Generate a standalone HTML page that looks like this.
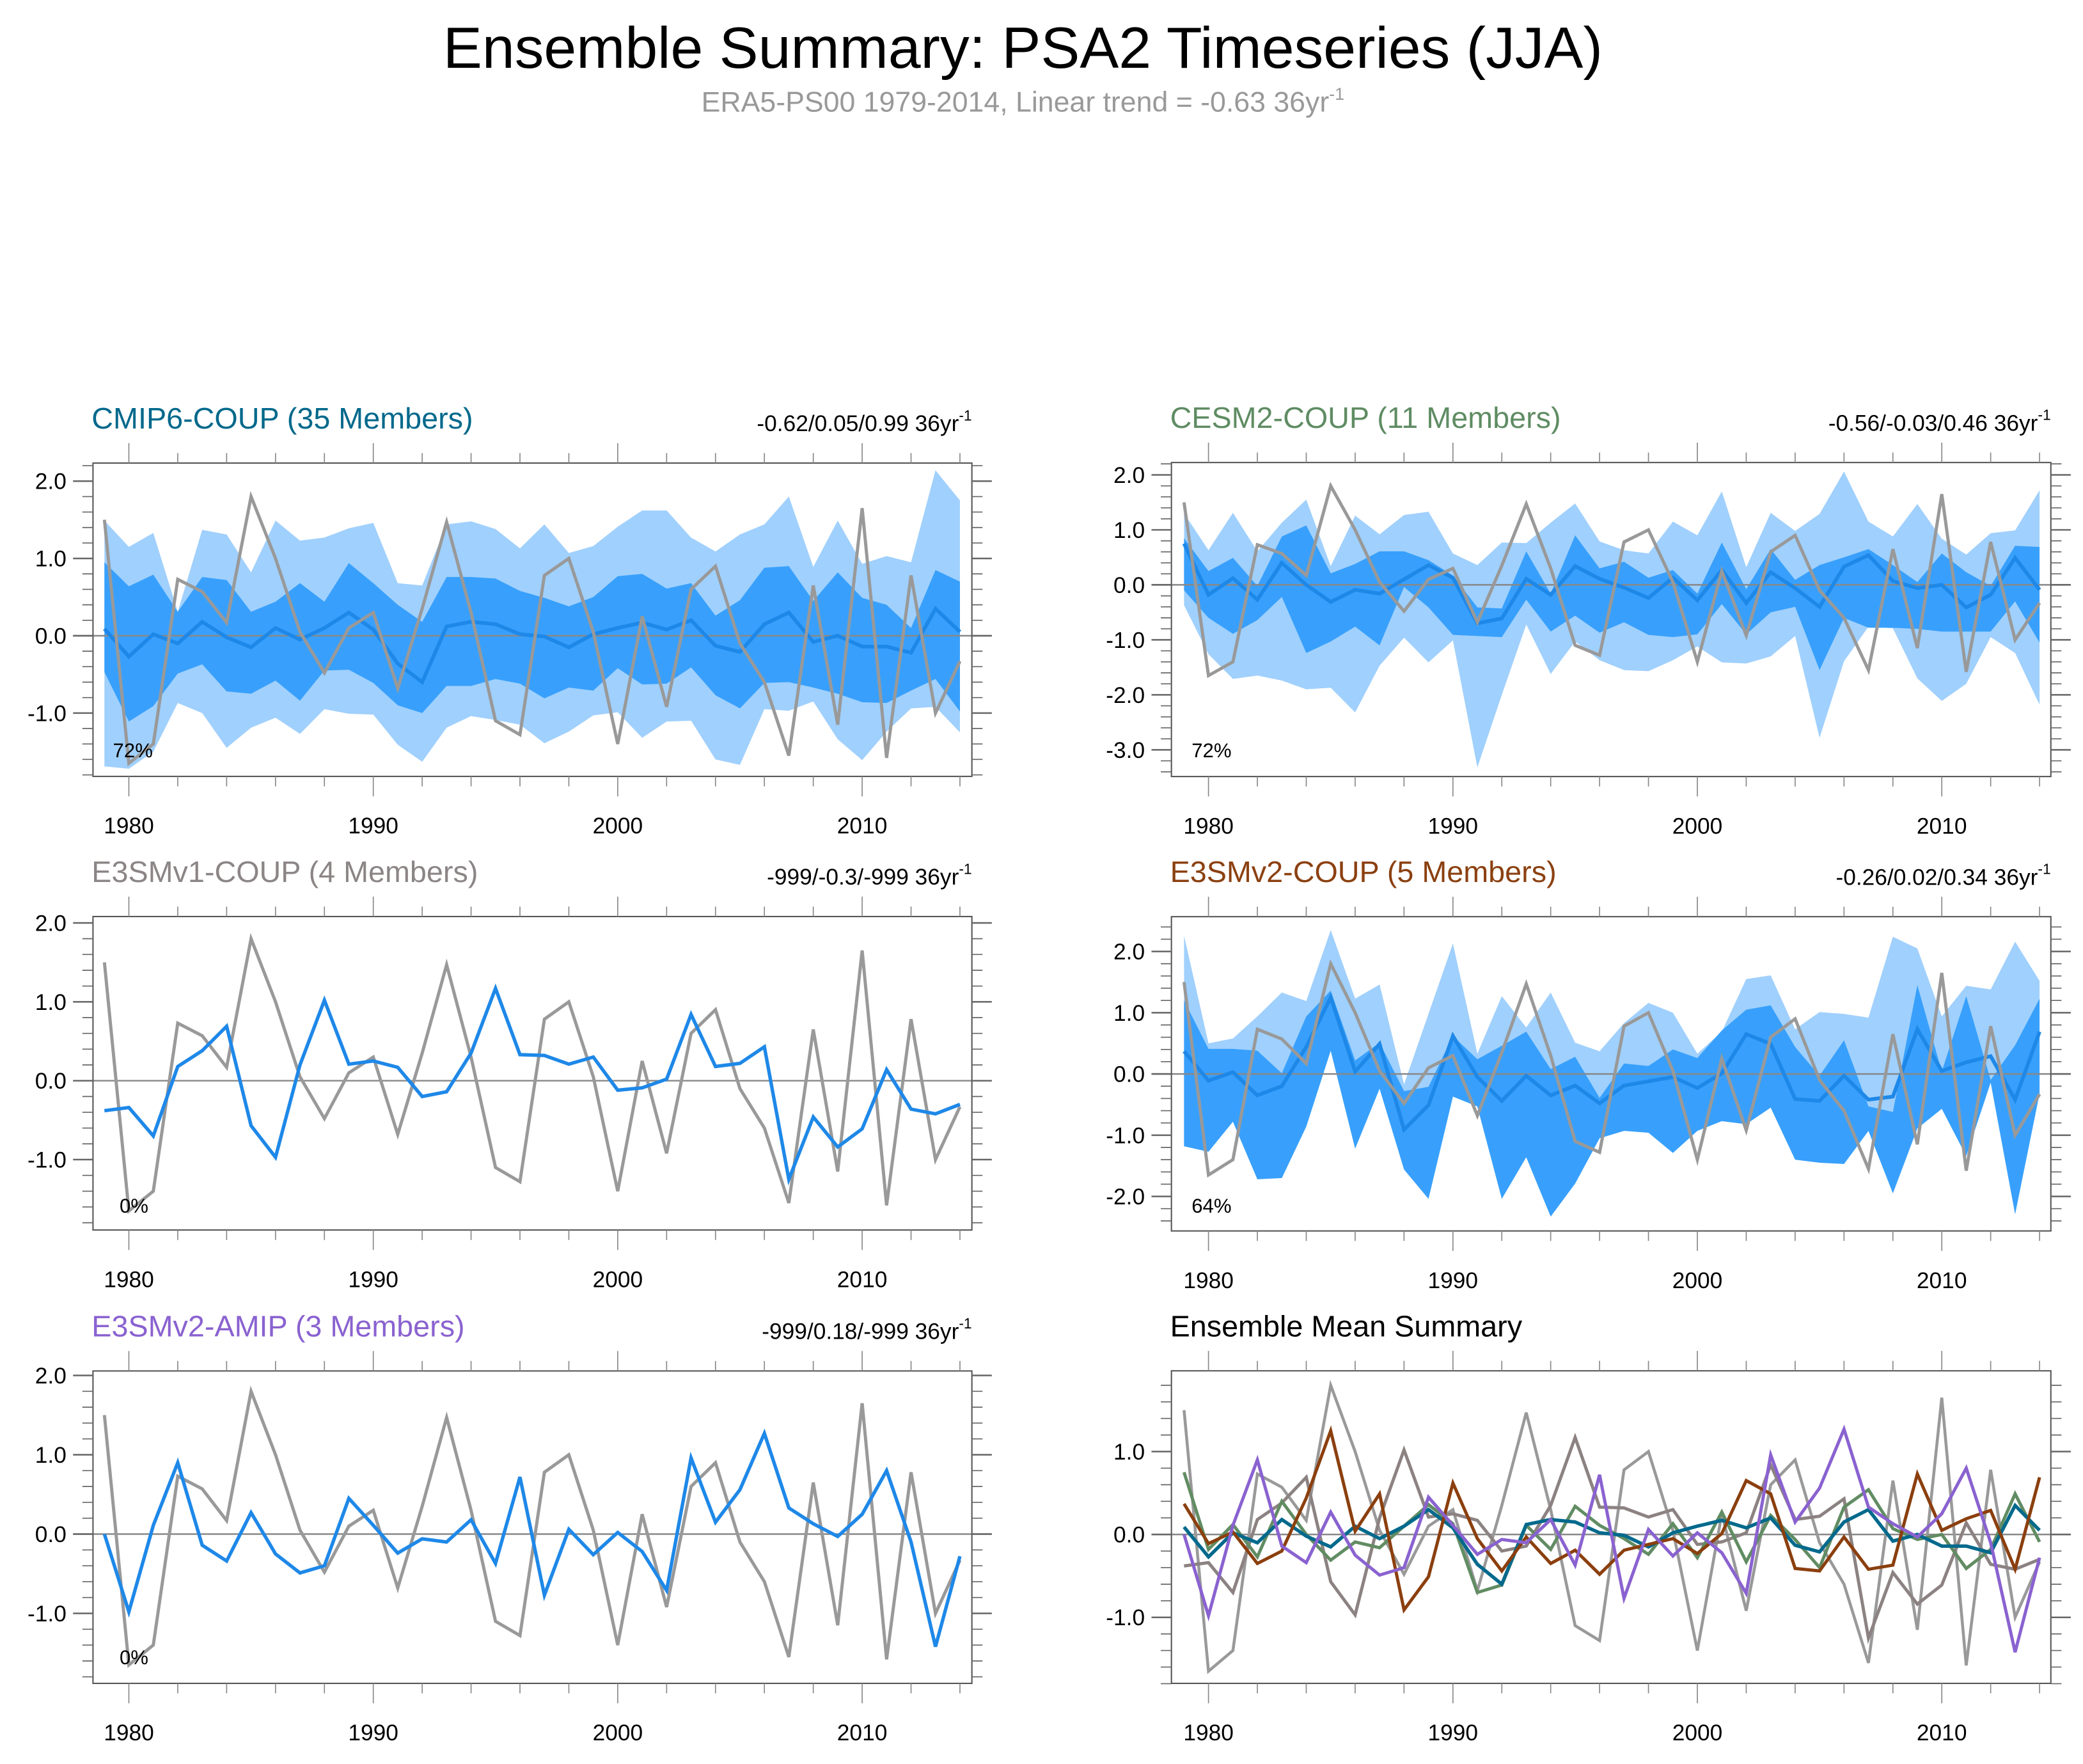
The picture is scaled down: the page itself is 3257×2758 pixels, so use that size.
<!DOCTYPE html>
<html><head><meta charset="utf-8"><style>
html,body{margin:0;padding:0;background:#fff;}
svg{display:block;font-family:"Liberation Sans",sans-serif;}
</style></head><body>
<svg id="chart" xmlns="http://www.w3.org/2000/svg" width="3257" height="2758" viewBox="0 0 1568 1328" preserveAspectRatio="none">
<rect x="0" y="0" width="1568" height="1328" fill="#fff"/>
<text x="770" y="51" font-size="44" text-anchor="middle" fill="#000">Ensemble Summary: PSA2 Timeseries (JJA)</text>
<text x="770" y="84" font-size="21.5" text-anchor="middle" fill="#999">ERA5-PS00 1979-2014, Linear trend = -0.63 36yr<tspan font-size="13" dy="-9">-1</tspan></text>
</svg>
<script>
const years=[1979,1980,1981,1982,1983,1984,1985,1986,1987,1988,1989,1990,1991,1992,1993,1994,1995,1996,1997,1998,1999,2000,2001,2002,2003,2004,2005,2006,2007,2008,2009,2010,2011,2012,2013,2014];
const obs=[1.5,-1.65,-1.4,0.73,0.57,0.17,1.8,1.0,0.05,-0.48,0.1,0.3,-0.68,0.35,1.47,0.3,-1.1,-1.28,0.78,1.0,0.05,-1.4,0.25,-0.92,0.6,0.9,-0.1,-0.6,-1.55,0.65,-1.15,1.65,-1.58,0.78,-1.0,-0.33];
const cmipMean=[0.09,-0.27,0.02,-0.1,0.18,-0.02,-0.15,0.1,-0.05,0.1,0.3,0.08,-0.36,-0.6,0.12,0.18,0.15,0.02,-0.01,-0.15,0.02,0.1,0.17,0.08,0.2,-0.13,-0.21,0.15,0.3,-0.08,0.0,-0.14,-0.14,-0.22,0.35,0.05];
const cmipDarkHi=[0.95,0.64,0.79,0.31,0.76,0.72,0.31,0.44,0.68,0.44,0.94,0.68,0.4,0.18,0.76,0.76,0.74,0.58,0.49,0.38,0.5,0.77,0.8,0.61,0.68,0.26,0.46,0.88,0.9,0.45,0.82,0.49,0.4,0.1,0.85,0.7];
const cmipDarkLo=[-0.47,-1.11,-0.91,-0.49,-0.37,-0.72,-0.75,-0.58,-0.84,-0.45,-0.44,-0.61,-0.9,-1.0,-0.65,-0.65,-0.56,-0.62,-0.81,-0.67,-0.71,-0.42,-0.63,-0.62,-0.41,-0.77,-0.94,-0.61,-0.6,-0.67,-0.75,-0.86,-0.87,-0.71,-0.56,-0.98];
const cmipLightHi=[1.49,1.15,1.33,0.31,1.37,1.31,0.82,1.49,1.23,1.27,1.39,1.46,0.68,0.65,1.44,1.48,1.38,1.13,1.44,1.07,1.16,1.41,1.62,1.62,1.27,1.09,1.31,1.44,1.8,0.89,1.49,0.93,1.03,0.95,2.14,1.75];
const cmipLightLo=[-1.69,-1.72,-1.5,-0.87,-1.0,-1.45,-1.19,-1.06,-1.27,-0.95,-1.01,-1.02,-1.41,-1.63,-1.19,-1.04,-1.09,-1.15,-1.39,-1.24,-1.03,-0.99,-1.32,-1.11,-1.1,-1.6,-1.67,-0.95,-0.97,-0.85,-1.34,-1.61,-1.24,-0.94,-0.92,-1.25];
const cesmMean=[0.75,-0.18,0.12,-0.27,0.4,0.0,-0.31,-0.09,-0.16,0.1,0.36,0.13,-0.7,-0.61,0.11,-0.18,0.34,0.11,-0.05,-0.24,0.13,-0.28,0.27,-0.33,0.23,-0.06,-0.4,0.33,0.54,0.07,-0.06,0.0,-0.41,-0.18,0.49,-0.09];
const cesmDarkHi=[0.85,0.25,0.49,-0.02,0.88,1.08,0.21,0.38,0.61,0.61,0.45,0.17,-0.41,-0.43,0.61,-0.16,0.9,0.3,0.42,0.13,0.27,-0.16,0.77,-0.08,0.65,0.09,0.36,0.5,0.65,0.36,0.05,0.57,0.23,-0.02,0.71,0.69];
const cesmDarkLo=[-0.1,-0.6,-0.89,-0.64,-0.22,-1.24,-1.03,-0.76,-1.1,-0.04,-0.41,-0.91,-0.93,-0.95,-0.27,-0.85,-0.56,-0.87,-0.68,-0.91,-0.95,-0.9,-0.35,-0.9,-0.5,-0.4,-1.55,-0.6,-0.78,-0.78,-0.8,-0.85,-0.85,-0.85,-0.3,-1.05];
const cesmLightHi=[1.3,0.63,1.31,0.61,1.13,1.55,0.34,1.26,0.92,1.27,1.33,0.57,0.36,0.77,0.76,1.13,1.48,0.79,0.63,0.57,1.15,0.9,1.7,0.32,1.31,0.98,1.29,2.06,1.15,0.88,1.47,0.84,0.55,0.94,0.99,1.72];
const cesmLightLo=[-0.37,-1.26,-1.71,-1.65,-1.74,-1.9,-1.87,-2.32,-1.47,-0.96,-1.41,-1.01,-3.32,-2.0,-0.72,-1.62,-1.03,-1.37,-1.55,-1.57,-1.37,-1.12,-1.41,-1.43,-1.3,-0.93,-2.78,-1.39,-0.76,-0.79,-1.7,-2.11,-1.8,-0.95,-1.24,-2.18];
const v1Mean=[-0.38,-0.34,-0.7,0.18,0.38,0.69,-0.57,-0.97,0.2,1.02,0.21,0.25,0.17,-0.2,-0.14,0.35,1.17,0.33,0.32,0.21,0.3,-0.12,-0.09,0.02,0.84,0.18,0.22,0.43,-1.25,-0.46,-0.84,-0.61,0.14,-0.36,-0.42,-0.3];
const v2Mean=[0.37,-0.11,0.03,-0.35,-0.2,0.44,1.25,0.04,0.49,-0.91,-0.51,0.62,-0.05,-0.44,-0.03,-0.35,-0.19,-0.48,-0.19,-0.12,-0.05,-0.23,0.01,0.65,0.49,-0.41,-0.44,-0.03,-0.42,-0.37,0.73,0.05,0.19,0.29,-0.42,0.69];
const v2DarkHi=[1.2,0.41,0.41,0.38,0.01,0.94,1.36,0.22,0.51,-0.28,-0.21,0.62,0.24,0.46,0.69,0.08,0.28,-0.39,0.17,0.13,0.4,0.26,0.71,1.05,1.12,0.44,-0.03,0.55,-0.53,-0.62,1.45,0.04,1.27,-0.1,0.47,1.23];
const v2DarkLo=[-1.18,-1.27,-0.78,-1.72,-1.7,-0.86,0.38,-1.22,-0.24,-1.56,-2.04,-0.37,-0.53,-2.04,-1.36,-2.33,-1.79,-1.05,-0.93,-0.96,-1.29,-0.93,-0.77,-0.82,-0.55,-1.4,-1.45,-1.47,-0.93,-1.95,-0.89,-0.57,-1.34,-0.14,-2.29,-0.32];
const v2LightHi=[2.26,0.5,0.58,0.94,1.33,1.19,2.35,1.23,1.46,-0.17,0.98,2.13,0.33,1.27,0.76,1.33,0.51,0.37,0.83,1.16,1.0,0.33,0.69,1.55,1.61,0.73,1.01,0.98,0.92,2.24,2.05,0.94,1.44,1.38,2.16,1.52];
const v2LightLo=[-1.18,-1.27,-0.78,-1.72,-1.7,-0.86,0.38,-1.22,-0.24,-1.56,-2.04,-0.37,-0.53,-2.04,-1.36,-2.33,-1.79,-1.05,-0.93,-0.96,-1.29,-0.93,-0.77,-0.82,-0.55,-1.4,-1.45,-1.47,-0.93,-1.95,-0.89,-0.57,-1.34,-0.14,-2.29,-0.32];
const amipMean=[0.0,-0.98,0.11,0.9,-0.14,-0.34,0.27,-0.25,-0.49,-0.4,0.45,0.11,-0.24,-0.06,-0.1,0.18,-0.37,0.72,-0.77,0.06,-0.26,0.02,-0.22,-0.71,0.96,0.15,0.56,1.27,0.33,0.13,-0.03,0.25,0.8,-0.1,-1.42,-0.28];
const xTickYears=[1980,1990,2000,2010];

const NS='http://www.w3.org/2000/svg';
const svg=document.getElementById('chart');
function mk(parent,tag,attrs,name){
  const el=document.createElementNS(NS,tag);
  for(const k in attrs) el.setAttribute(k,attrs[k]);
  
  
  parent.appendChild(el);
  return el;
}
function panel(cfg){
  const g=mk(svg,'g',{},cfg.name);
  const X=y=>cfg.xa+(y-1979)*18.4;
  const Y=v=>cfg.yz-v*cfg.unit;
  const t=mk(g,'text',{x:cfg.x0-1,y:cfg.y0-26,'font-size':22.5,fill:cfg.tcolor},'panel-title');
  t.textContent=cfg.title;
  if(cfg.trend){
    const r=mk(g,'text',{x:cfg.x1,y:cfg.y0-24,'font-size':17,'text-anchor':'end',fill:'#000'},'trend-label');
    r.appendChild(document.createTextNode(cfg.trend));
    const s=document.createElementNS(NS,'tspan');
    s.setAttribute('font-size','11');
    s.setAttribute('dy','-8');
    s.textContent='-1';
    r.appendChild(s);
  }
  const poly=(hi,lo,col,nm)=>{
    let pts=years.map((y,i)=>X(y)+','+Y(hi[i]));
    for(let i=years.length-1;i>=0;i--) pts.push(X(years[i])+','+Y(lo[i]));
    mk(g,'polygon',{points:pts.join(' '),fill:col},nm);
  };
  if(cfg.lightHi) poly(cfg.lightHi,cfg.lightLo,'#a0d0fd','outer-spread-band');
  if(cfg.darkHi) poly(cfg.darkHi,cfg.darkLo,'#38a0fc','inner-spread-band');
  mk(g,'line',{x1:cfg.x0-15,x2:cfg.x1+15,y1:Y(0),y2:Y(0),stroke:'#888','stroke-width':1.2},'zero-line');
  const line=(vals,col,w,nm)=>{
    mk(g,'polyline',{points:years.map((y,i)=>X(y)+','+Y(vals[i])).join(' '),fill:'none',stroke:col,'stroke-width':w,'stroke-linejoin':'miter'},nm);
  };
  cfg.lines.forEach(l=>line(l[0],l[1],l[2],l[3]));
  mk(g,'rect',{x:cfg.x0,y:cfg.y0,width:cfg.x1-cfg.x0,height:cfg.y1-cfg.y0,fill:'none',stroke:'#555','stroke-width':1},'plot-frame');
  const lo=Math.ceil(cfg.vmin/0.2-1e-6), hi=Math.floor(cfg.vmax/0.2+1e-6);
  for(let k=lo;k<=hi;k++){
    const v=k*0.2, yy=Y(v), major=Math.abs(v-Math.round(v))<1e-6;
    const L=major?15:8;
    mk(g,'line',{x1:cfg.x0-L,x2:cfg.x0,y1:yy,y2:yy,stroke:'#666','stroke-width':major?1.2:0.8},'y-tick');
    mk(g,'line',{x1:cfg.x1,x2:cfg.x1+L,y1:yy,y2:yy,stroke:'#666','stroke-width':major?1.2:0.8},'y-tick-right');
    if(major && cfg.labels){
      const tl=mk(g,'text',{x:cfg.x0-20,y:yy+6,'font-size':17,'text-anchor':'end',fill:'#000'},'y-tick-label');
      tl.textContent=Math.round(v).toFixed(1);
    }
  }
  for(let yr=1980;yr<=2014;yr+=2){
    const xx=X(yr), major=yr%10===0, L=major?15:7.5;
    mk(g,'line',{x1:xx,x2:xx,y1:cfg.y0-L,y2:cfg.y0,stroke:'#888','stroke-width':0.8},'x-tick-top');
    mk(g,'line',{x1:xx,x2:xx,y1:cfg.y1,y2:cfg.y1+L,stroke:'#888','stroke-width':0.8},'x-tick');
  }
  xTickYears.forEach(yr=>{
    const tl=mk(g,'text',{x:X(yr),y:cfg.y1+43,'font-size':17,'text-anchor':'middle',fill:'#000'},'x-tick-label');
    tl.textContent=yr;
  });
  if(cfg.pct){
    const p=mk(g,'text',{x:cfg.pctx,y:cfg.pcty,'font-size':15,fill:'#000'},'percent-label');
    p.textContent=cfg.pct;
  }
}
const OBS='#999999', MEAN='#1e88e8';
panel({name:'panel-cmip6-coup',title:'CMIP6-COUP (35 Members)',tcolor:'#00688b',trend:'-0.62/0.05/0.99 36yr',
  x0:70,x1:731.6,y0:348.6,y1:584.5,xa:78.6,yz:478.6,unit:58.2,vmin:-1.82,vmax:2.23,labels:true,
  lightHi:cmipLightHi,lightLo:cmipLightLo,darkHi:cmipDarkHi,darkLo:cmipDarkLo,
  lines:[[cmipMean,MEAN,2.8,'ensemble-mean-line'],[obs,OBS,2.4,'observed-line']],pct:'72%',pctx:85,pcty:570});
panel({name:'panel-cesm2-coup',title:'CESM2-COUP (11 Members)',tcolor:'#5f8c63',trend:'-0.56/-0.03/0.46 36yr',
  x0:881.8,x1:1543.8,y0:348.2,y1:584.6,xa:891.3,yz:440.3,unit:41.4,vmin:-3.42,vmax:2.22,labels:true,
  lightHi:cesmLightHi,lightLo:cesmLightLo,darkHi:cesmDarkHi,darkLo:cesmDarkLo,
  lines:[[cesmMean,MEAN,2.8,'ensemble-mean-line'],[obs,OBS,2.4,'observed-line']],pct:'72%',pctx:897,pcty:570});
panel({name:'panel-e3smv1-coup',title:'E3SMv1-COUP (4 Members)',tcolor:'#8c8585',trend:'-999/-0.3/-999 36yr',
  x0:70,x1:731.6,y0:690,y1:926,xa:78.6,yz:813.6,unit:59.4,vmin:-1.89,vmax:2.08,labels:true,
  lines:[[obs,OBS,2.4,'observed-line'],[v1Mean,MEAN,2.6,'ensemble-mean-line']],pct:'0%',pctx:90,pcty:913});
panel({name:'panel-e3smv2-coup',title:'E3SMv2-COUP (5 Members)',tcolor:'#8b4010',trend:'-0.26/0.02/0.34 36yr',
  x0:881.8,x1:1543.8,y0:690.1,y1:926.7,xa:891.3,yz:808.5,unit:46.1,vmin:-2.57,vmax:2.57,labels:true,
  lightHi:v2LightHi,lightLo:v2LightLo,darkHi:v2DarkHi,darkLo:v2DarkLo,
  lines:[[v2Mean,MEAN,2.8,'ensemble-mean-line'],[obs,OBS,2.4,'observed-line']],pct:'64%',pctx:897,pcty:913});
panel({name:'panel-e3smv2-amip',title:'E3SMv2-AMIP (3 Members)',tcolor:'#8a62d0',trend:'-999/0.18/-999 36yr',
  x0:70,x1:731.6,y0:1032.1,y1:1267.3,xa:78.6,yz:1154.9,unit:59.7,vmin:-1.89,vmax:2.06,labels:true,
  lines:[[obs,OBS,2.4,'observed-line'],[amipMean,MEAN,2.6,'ensemble-mean-line']],pct:'0%',pctx:90,pcty:1253});
panel({name:'panel-ensemble-mean-summary',title:'Ensemble Mean Summary',tcolor:'#000',trend:null,
  x0:881.8,x1:1543.8,y0:1032,y1:1267.3,xa:891.3,yz:1155.2,unit:62.4,vmin:-1.8,vmax:1.97,labels:true,
  lines:[[obs,OBS,2.2,'observed-line'],[v1Mean,'#8c8282',2.4,'e3smv1-mean-line'],[cesmMean,'#618c63',2.4,'cesm2-mean-line'],[cmipMean,'#00698c',2.6,'cmip6-mean-line'],[v2Mean,'#8b3f0e',2.4,'e3smv2-coup-mean-line'],[amipMean,'#8a62d0',2.4,'e3smv2-amip-mean-line']]});
</script>
</body></html>
